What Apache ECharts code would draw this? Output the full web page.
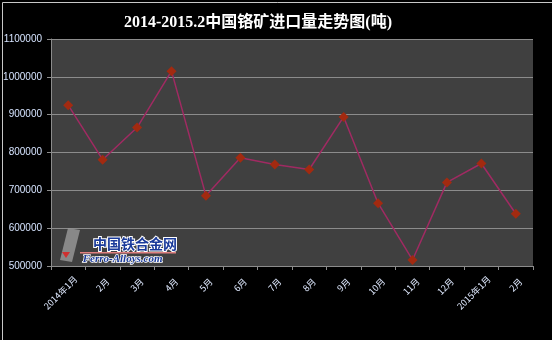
<!DOCTYPE html>
<html><head><meta charset="utf-8">
<script src="https://cdn.jsdelivr.net/npm/echarts@6/dist/echarts.min.js"></script>
<style>html,body{margin:0;padding:0;background:#000;}#c{width:552px;height:340px;}</style>
</head><body><div id="c"></div>
<script>
const titleText = '2014-2015.2中国铬矿进口量走势图(吨)';
const categories = ['2014年1月','2月','3月','4月','5月','6月','7月','8月','9月','10月','11月','12月','2015年1月','2月'];
const imports = [925000, 781000, 866000, 1015000, 686000, 786000, 768000, 755000, 894000, 666000, 516000, 721000, 771000, 638000];
const yTicks = { min: 500000, max: 1100000, interval: 100000 };

// Excel-style rotated labels: centred on the tick, longer ones pushed down.
const labelFont = '9px "Noto Sans CJK SC"';
const ctx = document.createElement('canvas').getContext('2d');
ctx.font = labelFont;
const widths = categories.map(c => ctx.measureText(c).width);
const minW = Math.min(...widths);
const xData = categories.map((c, i) => {
  const d = (widths[i] - minW) * 0.53; // extra downward shift
  const p = d * Math.SQRT2;
  return { value: c, textStyle: { align: 'center', verticalAlign: 'middle', padding: [p, p, 0, 0] } };
});

const chart = echarts.init(document.getElementById('c'));
chart.setOption({
  backgroundColor: '#000',
  animation: false,
  title: {
    text: titleText, left: 253, top: 10, textAlign: 'center',
    textStyle: { color: '#fff', fontSize: 16, fontWeight: 'bold', fontFamily: 'Liberation Serif, Noto Sans CJK SC' }
  },
  grid: { left: 51, right: 19, top: 39, bottom: 74, show: true, backgroundColor: '#404040', borderWidth: 0, outerBoundsMode: 'none', containLabel: false },
  xAxis: {
    type: 'category', data: xData, boundaryGap: true,
    axisLine: { lineStyle: { color: '#8c8c8c', width: 1 } },
    axisTick: { show: true, length: 4, lineStyle: { color: '#8c8c8c' } },
    axisLabel: { rotate: 45, align: 'center', verticalAlign: 'middle', color: '#dfe9ff', fontSize: 9, margin: 19, interval: 0, fontFamily: 'Noto Sans CJK SC' }
  },
  yAxis: {
    type: 'value', min: yTicks.min, max: yTicks.max, interval: yTicks.interval,
    axisLine: { show: true, lineStyle: { color: '#8c8c8c' } },
    axisTick: { show: true, length: 4, lineStyle: { color: '#8c8c8c' } },
    axisLabel: { color: '#d6e4ff', fontSize: 10, margin: 9, fontFamily: 'Liberation Sans, Arial', formatter: v => String(v) },
    splitLine: { lineStyle: { color: '#8c8c8c', width: 1 } }
  },
  series: [{
    type: 'line', data: imports,
    lineStyle: { color: '#a02a62', width: 1.5 },
    itemStyle: { color: '#a22a10' },
    symbol: 'diamond', symbolSize: 10, showSymbol: true
  }],
  graphic: [
    { type: 'rect', left: 0, top: 0, shape: { width: 551, height: 339 }, style: { fill: 'none', stroke: '#c8c8c8', lineWidth: 1 }, z: 100 },
    { type: 'polygon', shape: { points: [[68,228],[80,230],[72,262],[60,260]] }, style: { fill: '#9a9a9a', opacity: 0.8 }, z: 10 },
    { type: 'polygon', shape: { points: [[62,252],[70,252],[66,258]] }, style: { fill: '#d03030' }, z: 11 },
    { type: 'text', left: 92, top: 236, style: { text: '中国铁合金网', fill: '#1a3a9a', stroke: '#fff', lineWidth: 2, font: 'bold 14px "Noto Sans CJK SC"' }, z: 10 },
    { type: 'rect', left: 80, top: 252, shape: { width: 96, height: 1.5 }, style: { fill: '#e08080' }, z: 10 },
    { type: 'text', left: 82, top: 253, style: { text: 'Ferro-Alloys.com', fill: '#1a3a9a', stroke: '#fff', lineWidth: 1.5, font: 'italic bold 11px "Liberation Serif"' }, z: 10 }
  ]
});
</script></body></html>
